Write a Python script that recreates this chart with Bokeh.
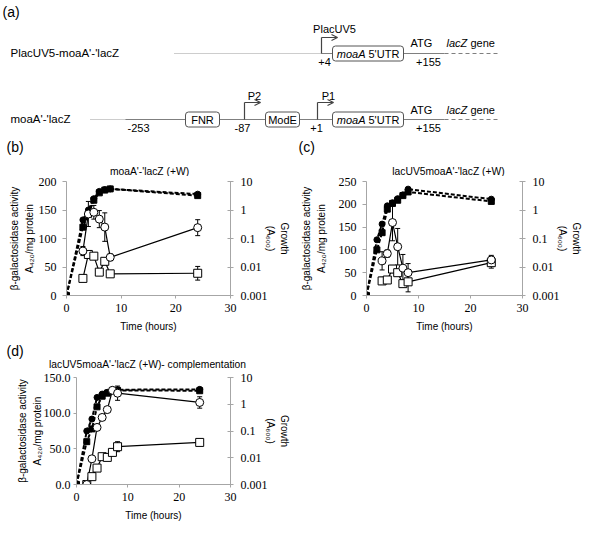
import math
from bokeh.plotting import figure
from bokeh.models import (Range1d, LinearAxis, LogAxis, LogScale, FixedTicker,
                          ColumnDataSource, Whisker, TeeHead, CustomJSTickFormatter, Arrow, OpenHead)
from bokeh.layouts import column, row
from bokeh.embed import file_html
from bokeh.resources import INLINE
from bokeh.core.properties import value

# ---------------- data ----------------
x_ticks = [0, 10, 20, 30]
log_ticks = [0.001, 0.01, 0.1, 1, 10]

# (b) moaA'-'lacZ (+W)
b_t_growth = [0, 3, 4, 5, 6, 7, 8, 24]
b_growth_circ = [0.001, 0.45, 1.0, 2.5, 4.5, 5.2, 5.5, 3.6]
b_growth_sq = [0.001, 0.25, 0.7, 2.2, 4.0, 5.0, 5.5, 3.2]
b_t_act = [3, 4, 5, 6, 7, 8, 24]
b_act_circ = [78, 143, 146, 134, 120, 67, 119]
b_err_circ = [8, 22, 12, 15, 25, 6, 14]
b_act_sq = [30, 72, 69, 41, 60, 38, 39]
b_err_sq = [4, 6, 5, 4, 6, 4, 12]
b_yticks = [0, 50, 100, 150, 200]

# (c) lacUV5moaA'-'lacZ (+W)
c_t_growth = [0, 2, 3, 4, 5, 6, 7, 8, 24]
c_growth_circ = [0.001, 0.09, 0.32, 1.4, 1.8, 2.5, 3.4, 5.4, 2.4]
c_growth_sq = [0.001, 0.04, 0.16, 1.07, 1.7, 2.2, 3.2, 4.3, 2.0]
c_t_act = [3, 4, 5, 6, 7, 8, 24]
c_act_circ = [76, 92, 160, 107, 60, 50, 78]
c_err_circ = [20, 8, 40, 40, 30, 20, 10]
c_act_sq = [32, 34, 58, 50, 26, 30, 72]
c_err_sq = [8, 6, 8, 6, 6, 22, 12]
c_yticks = [0, 50, 100, 150, 200, 250]

# (d) complementation
d_t_growth = [0, 2, 3, 4, 5, 6, 7, 8, 24]
d_growth_circ = [0.001, 0.1, 0.28, 1.8, 2.4, 2.8, 3.5, 3.5, 3.6]
d_growth_sq = [0.001, 0.04, 0.12, 0.8, 2.0, 2.6, 3.2, 3.3, 3.2]
d_t_act = [2, 3, 4, 5, 6, 7, 8, 24]
d_act_circ = [0, 36, 80, 94, 105, 132, 128, 115]
d_err_circ = [0, 2, 2, 2, 2, 4, 10, 8]
d_act_sq = [0, 11, 23, 39, 38, 45, 53, 59]
d_err_sq = [0, 1, 2, 2, 2, 3, 7, 4]
d_yticks = [0, 50, 100, 150]

titles = ["moaA'-'lacZ (+W)", "lacUV5moaA'-'lacZ (+W)", "lacUV5moaA'-'lacZ (+W)- complementation"]
left_label = "\u03b2-galactosidase activity\nA\u2084\u2082\u2080/mg protein"
right_label = "Growth\n(A\u2086\u2080\u2080)"
x_label = "Time (hours)"

SANS = "Liberation Sans"
SERIF = "Liberation Serif"
AXC = "#a6a6a6"


def no_align(f):
    try:
        f.frame_align = False
    except Exception:
        pass


def style_axis(ax, tin, tout, standoff):
    ax.axis_line_color = AXC
    ax.major_tick_line_color = AXC
    ax.minor_tick_line_color = None
    ax.major_tick_in = tin
    ax.major_tick_out = tout
    ax.major_label_text_font = SERIF
    ax.major_label_text_font_size = "12px"
    ax.major_label_text_color = "black"
    ax.major_label_standoff = standoff
    ax.axis_label_text_font = SANS
    ax.axis_label_text_font_size = "10px"
    ax.axis_label_text_font_style = "normal"
    ax.axis_label_text_color = "black"
    ax.axis_label_text_line_height = 1.3


def chart(width, height, ml, mr, mt, mb, yticks, yfmt, ltick, lstand, rstand,
          tg, gc, gs, ta, ac, ec, asq, esq):
    p = figure(width=width, height=height, output_backend="svg", toolbar_location=None,
               x_range=Range1d(0, 30), y_range=Range1d(0, yticks[-1]),
               min_border_left=ml, min_border_right=mr, min_border_top=mt, min_border_bottom=mb,
               x_axis_location=None, y_axis_location=None)
    no_align(p)
    p.grid.visible = False
    p.outline_line_color = None
    p.background_fill_color = None
    p.border_fill_color = None
    p.extra_y_ranges = {"g": Range1d(0.001, 10)}
    p.extra_y_scales = {"g": LogScale()}

    xa = LinearAxis(ticker=FixedTicker(ticks=x_ticks), axis_label=x_label)
    style_axis(xa, 0, 3, 5)
    xa.axis_label_standoff = 6
    p.add_layout(xa, "below")
    ya = LinearAxis(ticker=FixedTicker(ticks=yticks), axis_label=left_label,
                    formatter=CustomJSTickFormatter(code=yfmt))
    style_axis(ya, 0, ltick[0], ltick[1])
    ya.axis_label_standoff = lstand
    p.add_layout(ya, "left")
    ra = LogAxis(y_range_name="g", ticker=FixedTicker(ticks=log_ticks), axis_label=right_label,
                 formatter=CustomJSTickFormatter(code="return tick.toString()"))
    style_axis(ra, 3, 3, 7)
    ra.axis_label_standoff = rstand
    p.add_layout(ra, "right")

    # growth (log, right axis)
    p.line(tg, gs, y_range_name="g", line_color="black", line_width=2, line_dash="4 2")
    p.line(tg, gc, y_range_name="g", line_color="black", line_width=2, line_dash="4 2")
    p.scatter(tg, gs, y_range_name="g", marker="square", size=6, fill_color="black", line_color="black")
    p.scatter(tg, gc, y_range_name="g", marker="circle", size=6, fill_color="black", line_color="black")

    # activity (left axis)
    p.line(ta, asq, line_color="black", line_width=1.2)
    p.line(ta, ac, line_color="black", line_width=1.2)
    for vals, errs in ((ac, ec), (asq, esq)):
        src = ColumnDataSource(dict(t=ta, lo=[v - e for v, e in zip(vals, errs)],
                                    up=[v + e for v, e in zip(vals, errs)]))
        p.add_layout(Whisker(source=src, base="t", lower="lo", upper="up",
                             line_color="black", line_width=1,
                             upper_head=TeeHead(size=5, line_color="black", line_width=1),
                             lower_head=TeeHead(size=5, line_color="black", line_width=1)))
    p.scatter(ta, asq, marker="square", size=8, fill_color="white", line_color="black", line_width=1)
    p.scatter(ta, ac, marker="circle", size=8, fill_color="white", line_color="black", line_width=1)
    return p


INT = "return tick.toFixed(0)"
ONE = "return tick.toFixed(1)"

# page rows (reference y): pa 8-184, charts 184-345, pt 345-379, pd 379-531
pb = chart(292, 161, 66, 59, 5, 42, b_yticks, INT, (4, 6), 1, -6,
           b_t_growth, b_growth_circ, b_growth_sq, b_t_act, b_act_circ, b_err_circ, b_act_sq, b_err_sq)
pc = chart(292, 161, 74, 51, 5, 42, c_yticks, INT, (4, 6), 9, -6,
           c_t_growth, c_growth_circ, c_growth_sq, c_t_act, c_act_circ, c_err_circ, c_act_sq, c_err_sq)
pd = chart(292, 152, 76, 57, 6, 32, d_yticks, ONE, (3, 3), -2, -6,
           d_t_growth, d_growth_circ, d_growth_sq, d_t_act, d_act_circ, d_err_circ, d_act_sq, d_err_sq)


def text_fig(height, y0, y1):
    f = figure(width=584, height=height, x_range=Range1d(8, 592), y_range=Range1d(y1, y0),
               output_backend="svg", toolbar_location=None, min_border=0,
               x_axis_location=None, y_axis_location=None)
    no_align(f)
    f.grid.visible = False
    f.outline_line_color = None
    f.background_fill_color = None
    f.border_fill_color = None
    return f


def txt(f, xs, ys, ts, size="11px", align="left", style="normal"):
    f.text(x=xs, y=ys, text=ts, text_font=value(SANS), text_font_size=size,
           text_align=align, text_baseline="middle", text_color="black", text_font_style=style)


# ---------------- (a) schematic + (b)/(c) headings ----------------
pa = text_fig(176, 8, 184)
LC = "#7f7f7f"
r1, r2 = 61, 127

txt(pa, [10], [19], ["(a)"], size="14px")
txt(pa, [18, 18], [r1 - 1, r2 - 1], ["PlacUV5-moaA'-'lacZ", "moaA'-'lacZ"], size="11.5px")

pa.segment(x0=[182, 98], y0=[r1, r2], x1=[329, 133], y1=[r1, r2], line_color="#9a9a9a",
           line_width=1, line_dash="1 1")
pa.segment(x0=[329, 133], y0=[r1, r2], x1=[452, 452], y1=[r1, r2], line_color=LC, line_width=1.2)
pa.segment(x0=[452, 452], y0=[r1, r2], x1=[508, 508], y1=[r1, r2], line_color=LC, line_width=1.2,
           line_dash="4 3")

for px, ry, top in ((329, r1, 45), (252, r2, 110), (325, r2, 110)):
    pa.segment(x0=[px], y0=[ry], x1=[px], y1=[top], line_color="#444444", line_width=1.2)
    pa.add_layout(Arrow(x_start=px, y_start=top, x_end=px + 16, y_end=top,
                        line_color="#444444", line_width=1.2,
                        end=OpenHead(size=6, line_color="#444444", line_width=1.2)))

bx_l = [340, 193, 273, 340]
bx_r = [411, 227, 307, 411]
bx_t = [r1 - 7.5, r2 - 7.5, r2 - 7.5, r2 - 7.5]
bx_b = [r1 + 7.5, r2 + 7.5, r2 + 7.5, r2 + 7.5]
try:
    pa.quad(left=bx_l, right=bx_r, top=bx_t, bottom=bx_b, fill_color="white",
            line_color="#555555", line_width=1, border_radius=3)
except Exception:
    pa.quad(left=bx_l, right=bx_r, top=bx_t, bottom=bx_b, fill_color="white",
            line_color="#555555", line_width=1)

txt(pa, [210, 290], [r2, r2], ["FNR", "ModE"], align="center")
txt(pa, [373, 373], [r1, r2], ["moaA", "moaA"], align="right", style="italic")
txt(pa, [376, 376], [r1, r2], ["5'UTR", "5'UTR"], align="left")
txt(pa, [342, 262, 336], [36, 103, 103], ["PlacUV5", "P2", "P1"], align="center")
txt(pa, [332, 146, 250, 324], [r1 + 8, r2 + 8, r2 + 8, r2 + 8], ["+4", "-253", "-87", "+1"], align="center")
txt(pa, [436, 436], [r1 + 8, r2 + 8], ["+155", "+155"], align="center")
txt(pa, [429, 429], [r1 - 11, r2 - 10], ["ATG", "ATG"], align="center")
txt(pa, [454, 454], [r1 - 11, r2 - 10], ["lacZ", "lacZ"], style="italic")
txt(pa, [478, 478], [r1 - 11, r2 - 10], ["gene", "gene"])

txt(pa, [14, 306], [154, 154], ["(b)", "(c)"], size="14px")
txt(pa, [157, 456], [179, 179], titles[:2], size="10.3px", align="center")

# ---------------- (d) heading ----------------
pt = text_fig(34, 345, 379)
txt(pt, [14], [358], ["(d)"], size="14px")
txt(pt, [155], [372], [titles[2]], size="10.3px", align="center")

layout = column(pa, row(pb, pc), pt, pd)
open("out.html", "w").write(file_html(layout, INLINE))
